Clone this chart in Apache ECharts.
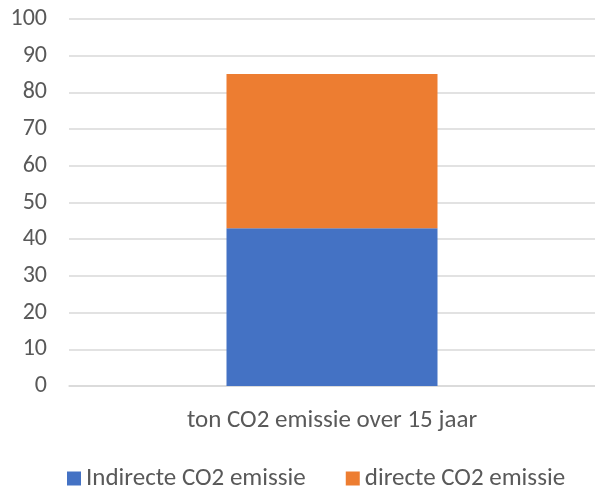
<!DOCTYPE html>
<html>
<head>
<meta charset="utf-8">
<script src="https://cdn.jsdelivr.net/npm/echarts@6/dist/echarts.min.js"></script>
<style>
  html, body { margin: 0; padding: 0; background: #fff; }
  #chart { width: 595px; height: 489px; }
</style>
</head>
<body>
<div id="chart"></div>
<script>
// Categories and stacked values (ton CO2)
const categories = ['ton CO2 emissie over 15 jaar'];
const indirecte = [43];
const directe = [42];
const seriesNames = ['Indirecte CO2 emissie', 'directe CO2 emissie'];
const yMin = 0, yMax = 100, yStep = 10;

const font = 'Carlito, "Liberation Sans", "Open Sans", sans-serif';
const chart = echarts.init(document.getElementById('chart'));
chart.setOption({
  animation: false,
  textStyle: { fontFamily: font },
  grid: { left: 69, right: -5, top: 19, bottom: 103 },
  legend: {
    top: 461,
    left: 62,
    itemWidth: 14,
    itemHeight: 14,
    itemGap: 40,
    icon: 'rect',
    textStyle: { fontSize: 25, color: '#595959', fontFamily: font },
    data: seriesNames
  },
  xAxis: {
    type: 'category',
    data: categories,
    axisLine: { lineStyle: { color: '#d9d9d9', width: 1.5 } },
    axisTick: { show: false },
    axisLabel: { fontSize: 25, color: '#595959', margin: 22, fontFamily: font }
  },
  yAxis: {
    type: 'value',
    min: yMin, max: yMax, interval: yStep,
    axisLine: { show: false },
    axisTick: { show: false },
    axisLabel: { fontSize: 24, color: '#595959', margin: 22, fontFamily: font },
    splitLine: { lineStyle: { color: '#d9d9d9', width: 1.5 } }
  },
  series: [
    {
      name: seriesNames[0], type: 'bar', stack: 'co2', data: indirecte,
      barWidth: 211, itemStyle: { color: '#4472c4' }
    },
    {
      name: seriesNames[1], type: 'bar', stack: 'co2', data: directe,
      barWidth: 211, itemStyle: { color: '#ed7d31' }
    }
  ]
});
</script>
</body>
</html>
